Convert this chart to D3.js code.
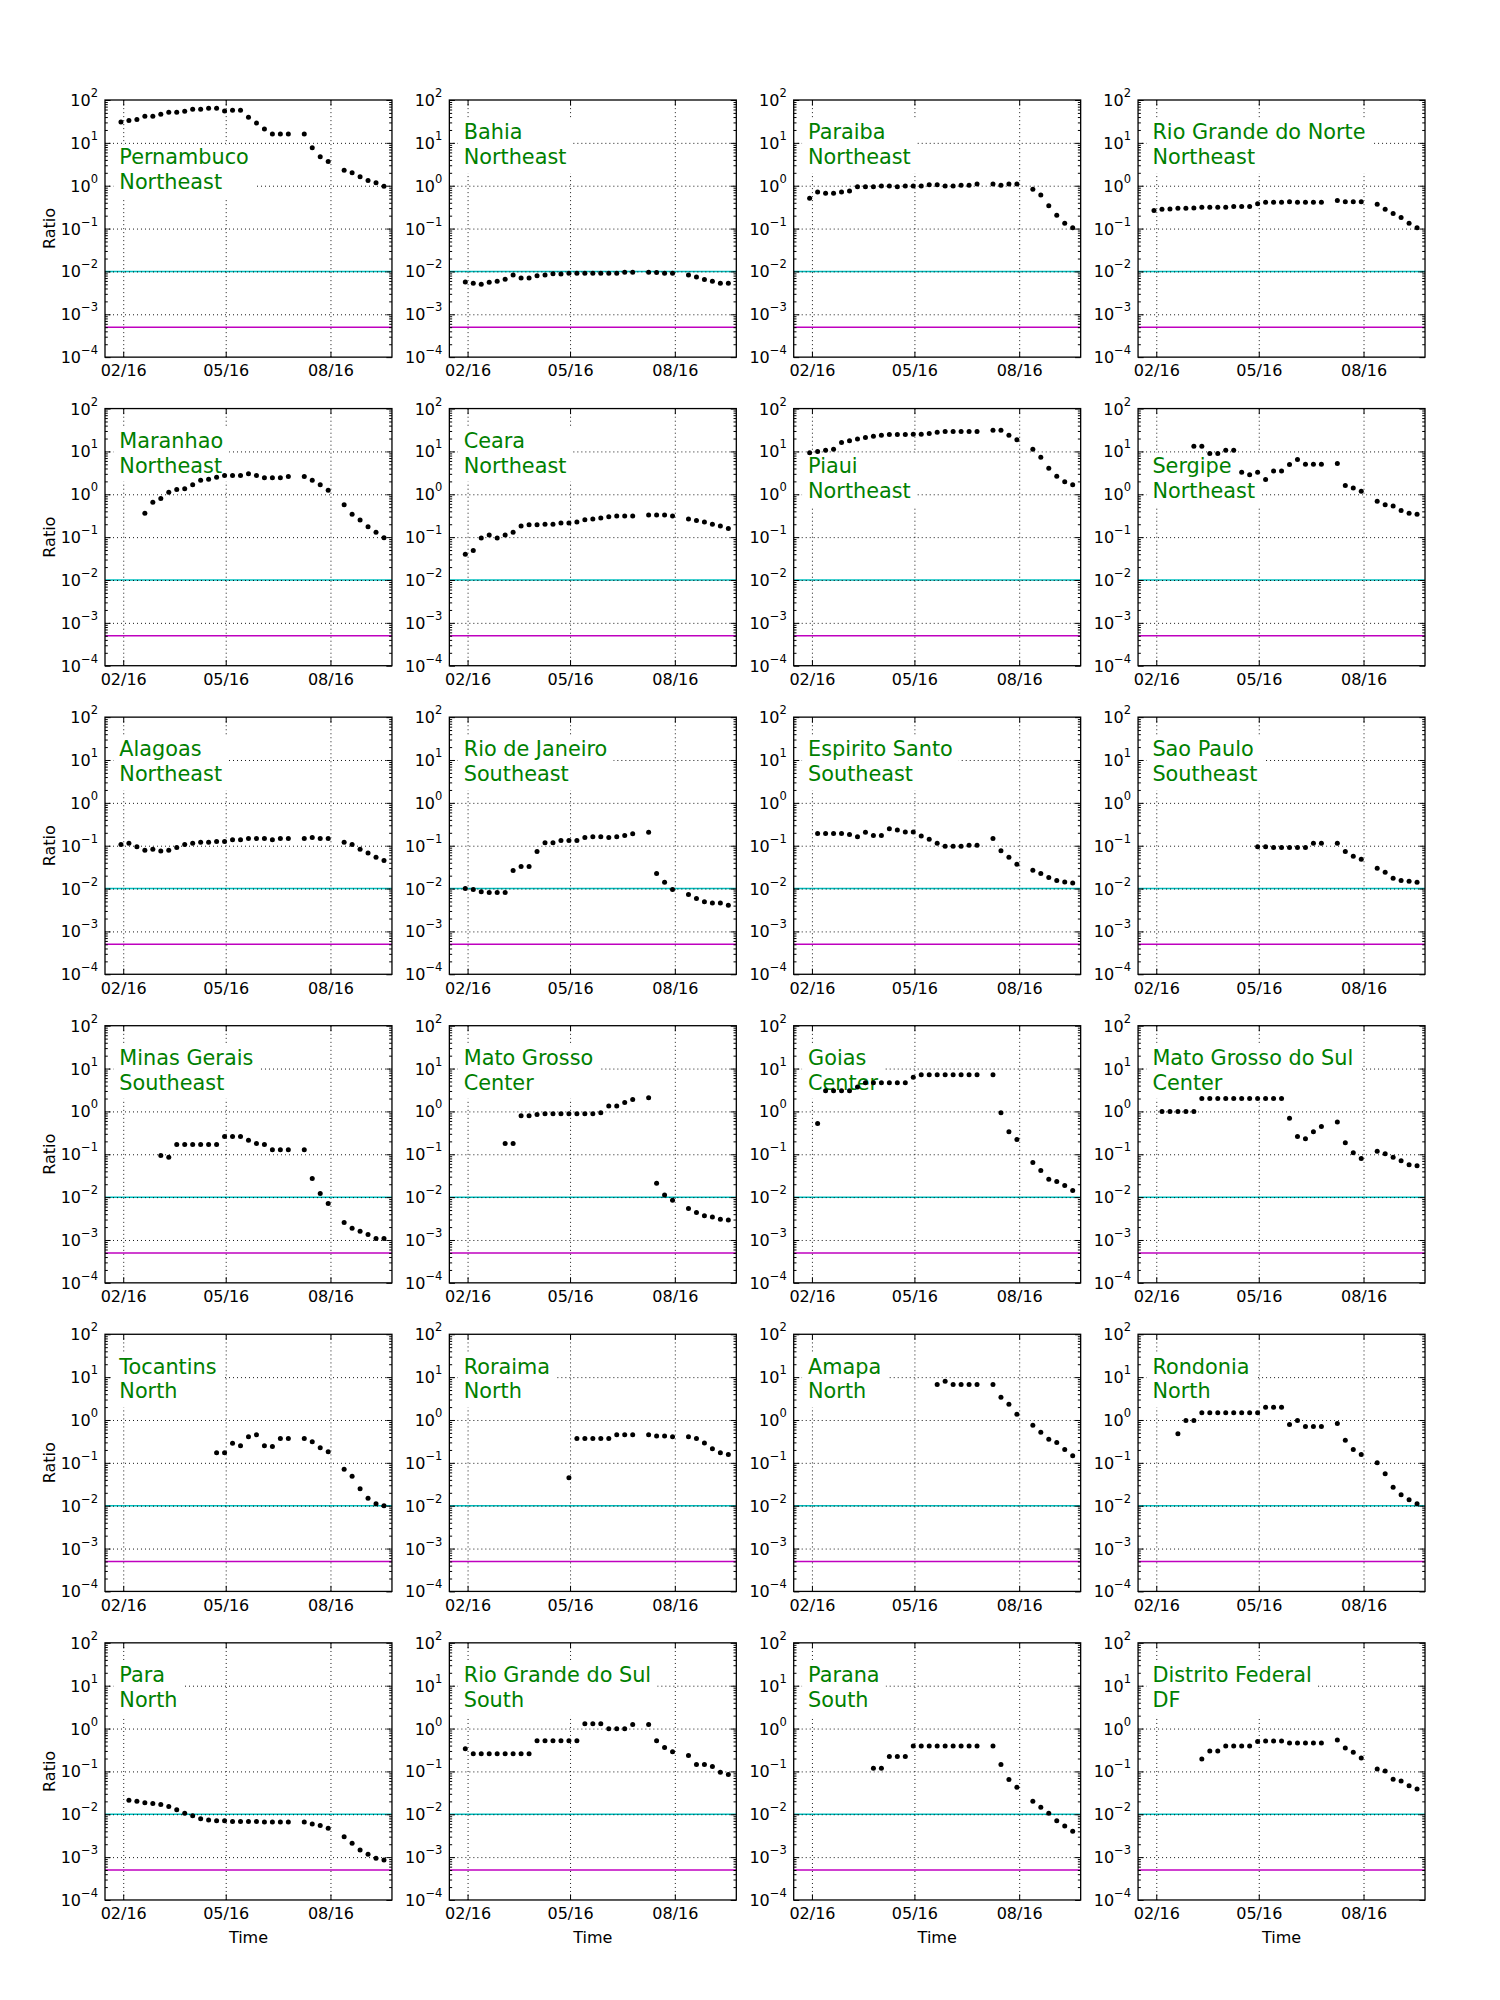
<!DOCTYPE html>
<html><head><meta charset="utf-8">
<script src="https://cdn.jsdelivr.net/npm/d3@7"></script>
<style>
body{margin:0;background:#fff;}
svg{display:block;background:#fff;}
text{font-family:"DejaVu Sans",sans-serif;}
</style></head><body>
<svg id="chart" width="1500" height="2000"></svg>
<script>
// ---------- data ----------
const weekDates = ["2016-01-30","2016-02-06","2016-02-13","2016-02-20","2016-02-27","2016-03-05","2016-03-12","2016-03-19","2016-03-26","2016-04-02","2016-04-09","2016-04-16","2016-04-23","2016-04-30","2016-05-07","2016-05-14","2016-05-21","2016-05-28","2016-06-04","2016-06-11","2016-06-18","2016-06-25","2016-07-02","2016-07-09","2016-07-16","2016-07-23","2016-07-30","2016-08-06","2016-08-13","2016-08-20","2016-08-27","2016-09-03","2016-09-10","2016-09-17"];
const states = ["Pernambuco","Bahia","Paraiba","Rio Grande do Norte","Maranhao","Ceara","Piaui","Sergipe","Alagoas","Rio de Janeiro","Espirito Santo","Sao Paulo","Minas Gerais","Mato Grosso","Goias","Mato Grosso do Sul","Tocantins","Roraima","Amapa","Rondonia","Para","Rio Grande do Sul","Parana","Distrito Federal"];
const regions = ["Northeast","Northeast","Northeast","Northeast","Northeast","Northeast","Northeast","Northeast","Northeast","Southeast","Southeast","Southeast","Southeast","Center","Center","Center","North","North","North","North","North","South","South","DF"];
const xTickDates = ["2016-02-01","2016-05-01","2016-08-01"];
const xDomain = ["2016-01-16","2016-09-24"];
const yTickExponents = [-4,-3,-2,-1,0,1,2];
const cyanLevel = 0.01;
const magentaLevel = 0.0005;

const pernambuco = [30.5,33.3,35.2,42,42,46.7,51.9,52,54.7,60.9,61,64.2,64,55.7,57.8,58,39.8,28.9,21,16.1,16.1,16.1,null,16.1,7.7,4.75,3.65,null,2.3,2.0,1.61,1.33,1.17,0.97];
const bahia = [0.0057,0.0053,0.0050,0.0056,0.0059,0.0066,0.0082,0.0070,0.0070,0.0079,0.0083,0.0088,0.0087,0.0091,0.0091,0.0091,0.0091,0.0091,0.0091,0.0091,0.0096,0.0096,null,0.0096,0.0094,0.0091,0.0091,null,0.0082,0.0074,0.0065,0.0059,0.0053,0.0053];
const paraiba = [0.51,0.71,0.67,0.67,0.71,0.75,0.94,0.94,0.94,0.99,0.99,0.94,0.99,0.99,0.99,1.05,1.05,0.99,0.99,1.03,1.03,1.09,null,1.09,1.03,1.09,1.09,null,0.83,0.61,0.34,0.205,0.133,0.105];
const rioGrandeDoNorte = [0.265,0.281,0.287,0.298,0.298,0.304,0.316,0.316,0.316,0.316,0.329,0.329,0.329,0.378,0.409,0.409,0.409,0.425,0.409,0.409,0.409,0.409,null,0.451,0.425,0.425,0.425,null,0.37,0.281,0.226,0.182,0.133,0.105];
const maranhao = [null,null,null,0.36,0.65,0.80,1.11,1.30,1.35,1.68,2.13,2.25,2.49,2.75,2.75,2.75,3.03,2.75,2.44,2.44,2.44,2.59,null,2.59,2.13,1.68,1.25,null,0.57,0.34,0.25,0.175,0.13,0.097];
const ceara = [0.040,0.049,0.095,0.112,0.095,0.112,0.13,0.182,0.194,0.194,0.201,0.201,0.213,0.213,0.226,0.255,0.265,0.281,0.298,0.31,0.31,0.31,null,0.329,0.329,0.329,0.31,null,0.265,0.245,0.226,0.201,0.182,0.159];
const piaui = [9.3,9.9,10.6,11.3,16.1,17.7,19.6,21.2,22.5,23.8,24.8,24.8,24.8,25.3,25.3,26.3,27.9,29,29,29,29,29,null,31.4,31.4,23.8,18.8,null,11.3,7.3,4.07,2.64,1.97,1.68];
const sergipe = [null,null,null,null,null,13.2,13.2,8.9,8.9,10.6,10.6,3.27,2.86,3.27,2.21,3.47,3.47,4.95,6.51,5.05,5.05,5.05,null,5.25,1.61,1.41,1.18,null,0.69,0.57,0.53,0.42,0.36,0.34];
const alagoas = [0.107,0.114,0.095,0.078,0.083,0.075,0.078,0.091,0.107,0.114,0.12,0.12,0.125,0.125,0.138,0.138,0.147,0.147,0.147,0.138,0.147,0.147,null,0.147,0.156,0.147,0.147,null,0.12,0.107,0.083,0.068,0.054,0.045];
const rioDeJaneiro = [0.010,0.0095,0.0084,0.0081,0.0081,0.0081,0.0264,0.0327,0.0327,0.0735,0.118,0.118,0.133,0.133,0.133,0.156,0.162,0.162,0.156,0.162,0.172,0.189,null,0.205,0.0225,0.014,0.0095,null,0.0073,0.0059,0.0049,0.0046,0.0046,0.0041];
const espiritoSanto = [null,0.193,0.193,0.193,0.193,0.182,0.162,0.205,0.172,0.172,0.25,0.231,0.209,0.209,0.168,0.141,0.114,0.097,0.097,0.097,0.103,0.103,null,0.147,0.0765,0.0536,0.0369,null,0.0269,0.0225,0.0181,0.0155,0.0143,0.0135];
const saoPaulo = [null,null,null,null,null,null,null,null,null,null,null,null,null,0.095,0.095,0.091,0.091,0.091,0.091,0.091,0.114,0.114,null,0.114,0.0735,0.057,0.0486,null,0.0297,0.0239,0.0174,0.0155,0.0149,0.014];
const minasGerais = [null,null,null,null,null,0.0935,0.085,0.169,0.169,0.169,0.169,0.169,0.169,0.26,0.26,0.26,0.213,0.179,0.169,0.128,0.128,0.128,null,0.128,0.0271,0.0121,0.0071,null,0.00257,0.00188,0.0016,0.00134,0.00108,0.00108];
const matoGrosso = [null,null,null,null,null,0.179,0.179,0.796,0.796,0.845,0.879,0.879,0.879,0.879,0.879,0.879,0.879,0.93,1.33,1.33,1.61,1.89,null,2.08,0.021,0.0112,0.0085,null,0.0054,0.0044,0.0037,0.00345,0.00306,0.00294];
const goias = [null,0.52,3.03,3.03,3.03,3.03,3.69,4.67,4.67,4.67,4.67,4.67,4.67,6.27,7.19,7.19,7.19,7.19,7.19,7.19,7.19,7.19,null,7.19,0.93,0.336,0.222,null,0.0644,0.0418,0.0261,0.0232,0.0187,0.0142];
const matoGrossoDoSul = [null,1.0,1.0,1.0,1.0,1.0,2.0,2.0,2.0,2.0,2.0,2.0,2.0,2.0,2.0,2.0,2.0,0.694,0.26,0.231,0.336,0.442,null,0.57,0.186,0.109,0.08,null,0.118,0.103,0.085,0.071,0.057,0.054];
const tocantins = [null,null,null,null,null,null,null,null,null,null,null,null,0.172,0.172,0.287,0.25,0.409,0.451,0.25,0.24,0.37,0.37,null,0.37,0.31,0.226,0.182,null,0.0707,0.0486,0.0249,0.0149,0.0111,0.0100];
const roraima = [null,null,null,null,null,null,null,null,null,null,null,null,null,0.045,0.37,0.37,0.37,0.37,0.37,0.451,0.451,0.451,null,0.451,0.425,0.425,0.409,null,0.409,0.37,0.292,0.213,0.172,0.156];
const amapa = [null,null,null,null,null,null,null,null,null,null,null,null,null,null,null,null,6.7,8.0,6.7,6.7,6.7,6.7,null,6.7,3.37,2.32,1.36,null,0.75,0.52,0.356,0.298,0.205,0.147];
const rondonia = [null,null,null,0.48,0.97,0.97,1.47,1.47,1.47,1.47,1.47,1.47,1.47,1.47,1.98,1.98,1.98,0.78,0.97,0.70,0.70,0.70,null,0.83,0.336,0.205,0.156,null,0.1,0.0558,0.0269,0.0181,0.0138,0.0111];
const para = [null,0.0212,0.0202,0.0185,0.0178,0.017,0.0152,0.0128,0.0106,0.0092,0.0079,0.0073,0.0071,0.0071,0.0068,0.0068,0.0068,0.0068,0.0066,0.0066,0.0066,0.0066,null,0.0066,0.0059,0.0055,0.0047,null,0.003,0.0021,0.00147,0.00116,0.00094,0.00086];
const rioGrandeDoSul = [0.336,0.26,0.26,0.26,0.26,0.26,0.26,0.26,0.26,0.516,0.516,0.516,0.516,0.516,0.516,1.3,1.3,1.3,0.99,0.99,0.99,1.25,null,1.25,0.516,0.363,0.287,null,0.236,0.144,0.144,0.13,0.095,0.085];
const parana = [null,null,null,null,null,null,null,null,0.118,0.118,0.222,0.222,0.222,0.393,0.393,0.393,0.393,0.393,0.393,0.393,0.393,0.393,null,0.393,0.144,0.0644,0.0427,null,0.0202,0.0145,0.0106,0.0071,0.0053,0.0040];
const distritoFederal = [null,null,null,null,null,null,0.195,0.30,0.30,0.39,0.39,0.39,0.39,0.50,0.51,0.51,0.51,0.46,0.46,0.46,0.46,0.46,null,0.54,0.35,0.28,0.206,null,0.114,0.102,0.066,0.060,0.046,0.039];

const seriesList = [pernambuco,bahia,paraiba,rioGrandeDoNorte,maranhao,ceara,piaui,sergipe,alagoas,rioDeJaneiro,espiritoSanto,saoPaulo,minasGerais,matoGrosso,goias,matoGrossoDoSul,tocantins,roraima,amapa,rondonia,para,rioGrandeDoSul,parana,distritoFederal];

// ---------- layout ----------
const loweredLabel = new Set(["Pernambuco","Piaui","Sergipe"]);
const parse = d3.utcParse("%Y-%m-%d");
const svg = d3.select("#chart");
const axW = 286.96, axH = 257.14, left0 = 105, top0 = 100;
const colP = axW * 1.2, rowP = axH * 1.2;
const x = d3.scaleUtc().domain(xDomain.map(parse)).range([0, axW]);
const y = d3.scaleLog().domain([1e-4, 1e2]).range([axH, 0]);
const fmtX = d3.utcFormat("%m/%y");
const xTicks = xTickDates.map(parse);
const yMajor = yTickExponents.map(e => Math.pow(10, e));
const yMinor = [];
yTickExponents.slice(0, -1).forEach(e => { for (let m = 2; m <= 9; m++) yMinor.push(m * Math.pow(10, e)); });
const supMap = {"-":"\u2212"};

function styleAxis(sel) {
  sel.select(".domain").remove();
  sel.selectAll(".tick line").attr("stroke", "#000").attr("stroke-width", 1);
  sel.attr("font-family", "DejaVu Sans").attr("font-size", 16);
  sel.selectAll(".tick text").attr("fill", "#000");
}

states.forEach((name, i) => {
  const r = Math.floor(i / 4), c = i % 4;
  const g = svg.append("g").attr("transform", `translate(${left0 + c * colP},${top0 + r * rowP})`);
  const clipId = "clip" + i;
  g.append("clipPath").attr("id", clipId).append("rect").attr("width", axW).attr("height", axH);
  const plot = g.append("g").attr("clip-path", `url(#${clipId})`);

  // threshold lines
  plot.append("line").attr("x1", 0).attr("x2", axW).attr("y1", y(cyanLevel)).attr("y2", y(cyanLevel))
    .attr("stroke", "#00bfbf").attr("stroke-width", 1.5);
  plot.append("line").attr("x1", 0).attr("x2", axW).attr("y1", y(magentaLevel)).attr("y2", y(magentaLevel))
    .attr("stroke", "#bf00bf").attr("stroke-width", 1.5);

  // grid
  const gridX = plot.append("g").attr("transform", `translate(0,${axH})`)
    .call(d3.axisBottom(x).tickValues(xTicks).tickSize(-axH).tickFormat(""));
  const gridY = plot.append("g")
    .call(d3.axisLeft(y).tickValues(yMajor.slice(1, -1)).tickSize(-axW).tickFormat(""));
  [gridX, gridY].forEach(s => {
    s.select(".domain").remove();
    s.selectAll(".tick line").attr("stroke", "#000").attr("stroke-width", 0.9).attr("stroke-dasharray", "1,3");
  });

  // label with white box
  const lab = plot.append("g");
  const rect = lab.append("rect").attr("fill", "#fff");
  const b1 = loweredLabel.has(name) ? 64.3 : 39.3;
  const t = lab.append("text").attr("x", 14.35).attr("y", b1).attr("font-size", 20.8).attr("fill", "#008000");
  t.append("tspan").attr("x", 14.35).attr("y", b1).text(name);
  t.append("tspan").attr("x", 14.35).attr("y", b1 + 24.8).text(regions[i]);
  const bb = t.node().getBBox();
  rect.attr("x", bb.x - 6).attr("y", bb.y - 1).attr("width", bb.width + 12).attr("height", bb.height + 5);

  // points
  const pts = seriesList[i].map((v, k) => ({ d: parse(weekDates[k]), v })).filter(p => p.v != null);
  plot.selectAll("circle").data(pts).join("circle")
    .attr("cx", p => x(p.d)).attr("cy", p => y(p.v)).attr("r", 2.5).attr("fill", "#000");

  // ticks: x bottom with labels, x top
  const axB = g.append("g").attr("transform", `translate(0,${axH})`)
    .call(d3.axisBottom(x).tickValues(xTicks).tickSizeInner(-5.6).tickSizeOuter(0).tickPadding(8).tickFormat(fmtX));
  styleAxis(axB);
  axB.selectAll(".tick text").attr("dy", "0.71em");
  const axT = g.append("g").call(d3.axisTop(x).tickValues(xTicks).tickSizeInner(-5.6).tickSizeOuter(0).tickFormat(""));
  styleAxis(axT);

  // y major left with labels
  const axL = g.append("g")
    .call(d3.axisLeft(y).tickValues(yMajor).tickSizeInner(-5.6).tickSizeOuter(0).tickPadding(7).tickFormat(""));
  styleAxis(axL);
  axL.selectAll(".tick text").each(function (d) {
    const tt = d3.select(this).attr("dy", null).attr("y", 5.5);
    const e = Math.round(Math.log10(d));
    tt.append("tspan").text("10");
    tt.append("tspan").attr("font-size", 11.5).attr("dy", -9).text(String(e).replace("-", supMap["-"]));
  });
  const axR = g.append("g").attr("transform", `translate(${axW},0)`)
    .call(d3.axisRight(y).tickValues(yMajor).tickSizeInner(-5.6).tickSizeOuter(0).tickFormat(""));
  styleAxis(axR);
  const axLm = g.append("g").call(d3.axisLeft(y).tickValues(yMinor).tickSizeInner(-2.8).tickSizeOuter(0).tickFormat(""));
  styleAxis(axLm);
  const axRm = g.append("g").attr("transform", `translate(${axW},0)`)
    .call(d3.axisRight(y).tickValues(yMinor).tickSizeInner(-2.8).tickSizeOuter(0).tickFormat(""));
  styleAxis(axRm);

  // frame
  g.append("rect").attr("width", axW).attr("height", axH).attr("fill", "none").attr("stroke", "#000").attr("stroke-width", 1.3);

  if (c === 0) {
    g.append("text").attr("transform", `translate(-50,${axH / 2}) rotate(-90)`).attr("text-anchor", "middle")
      .attr("font-size", 16).attr("fill", "#000").text("Ratio");
  }
  if (r === 5) {
    g.append("text").attr("x", axW / 2).attr("y", axH + 42.6).attr("text-anchor", "middle")
      .attr("font-size", 16).attr("fill", "#000").text("Time");
  }
});
</script>
</body></html>
